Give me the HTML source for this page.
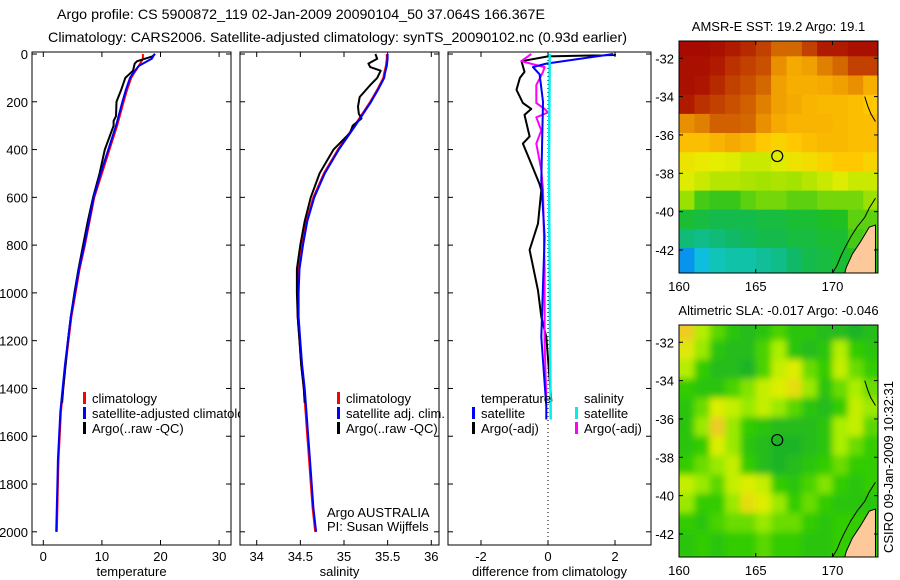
<!DOCTYPE html>
<html><head><meta charset="utf-8"><style>
html,body{margin:0;padding:0;background:#fff}
svg{display:block;font-family:"Liberation Sans",sans-serif}
</style></head><body>
<svg id="chart" width="900" height="580" viewBox="0 0 900 580">
<defs><clipPath id="legclip"><rect x="0" y="0" width="240" height="580"/></clipPath></defs>
<text x="57" y="19" font-size="14" textLength="488" lengthAdjust="spacingAndGlyphs">Argo profile: CS 5900872_119 02-Jan-2009 20090104_50 37.064S 166.367E</text>
<text x="48" y="42" font-size="14" textLength="579" lengthAdjust="spacingAndGlyphs">Climatology: CARS2006. Satellite-adjusted climatology: synTS_20090102.nc (0.93d earlier)</text>
<g id="panels"></g>
<g id="maps"></g>
<text transform="translate(893,553) rotate(-90)" font-size="13">CSIRO 09-Jan-2009 10:32:31</text>
</svg>
<script>
const tDepth   = [0,20,50,80,100,150,200,300,400,500,600,700,800,900,1000,1100,1200,1300,1400,1500,1600,1700,1800,1900,2000];
const tClim    = [17.0,17.0,16.3,15.5,15.0,14.3,13.7,12.6,11.3,10.0,8.7,7.9,7.1,6.2,5.5,4.8,4.3,3.8,3.4,3.0,2.8,2.6,2.5,2.4,2.3];
const tSat     = [19.0,18.5,16.3,15.3,14.8,14.1,13.5,12.4,11.1,9.8,8.6,7.8,7.0,6.1,5.4,4.7,4.2,3.7,3.3,2.9,2.7,2.5,2.4,2.3,2.2];
const aDepth   = [0,10,30,40,70,100,150,200,260,280,300,400,500,600,700,800,900,1000,1100,1200,1300,1400,1460];
const tArgo    = [19.1,18.6,16.0,15.6,15.3,14.0,13.3,12.5,12.4,12.0,12.0,10.5,9.6,8.5,7.6,6.8,6.0,5.3,4.7,4.2,3.8,3.4,3.2];
const sClim    = [35.49,35.49,35.48,35.46,35.45,35.38,35.30,35.12,34.93,34.77,34.65,34.57,34.52,34.48,34.47,34.47,34.49,34.51,34.54,34.56,34.58,34.60,34.62,34.64,34.67];
const sSat     = [35.50,35.50,35.49,35.47,35.46,35.39,35.31,35.13,34.94,34.78,34.66,34.58,34.53,34.49,34.48,34.48,34.50,34.52,34.55,34.57,34.59,34.61,34.63,34.65,34.68];
const sArgoDepth = [0,20,40,55,70,100,130,180,220,250,270,300,330,400,450,500,600,700,800,900,1000,1100,1200,1300,1400,1460];
const sArgo    = [35.36,35.38,35.28,35.30,35.42,35.38,35.30,35.18,35.16,35.17,35.20,35.10,35.07,34.88,34.80,34.72,34.62,34.55,34.50,34.46,34.46,34.47,34.49,34.51,34.54,34.55];
const dBlackDepth = [0,4,10,30,75,100,150,205,230,255,345,375,460,545,570,710,820,990,1100,1185,1455];
const dArgoT      = [2.0,2.0,0.0,-0.79,-0.7,-0.84,-0.94,-0.75,-0.5,-0.7,-0.55,-0.75,-0.5,-0.25,-0.2,-0.3,-0.55,-0.3,-0.2,-0.05,0.1];
const dSatDepth   = [0,40,55,85,200,530,765,1185,1475,1530];
const dSatT       = [1.95,-0.05,-0.45,-0.25,-0.15,-0.2,-0.1,-0.2,-0.05,-0.05];
const dCyanDepth  = [0,500,1000,1530];
const dSatS       = [0.05,0.03,0.05,0.08];
const dMagDepth   = [0,30,50,55,75,130,205,230,245,265,320,375,485,570,900,1200,1450];
const dArgoS      = [-0.5,-0.8,-0.25,-0.1,-0.15,-0.35,-0.35,-0.1,0.0,-0.35,-0.2,-0.35,-0.2,-0.15,-0.1,-0.1,-0.05];
const depthTicks = [0,200,400,600,800,1000,1200,1400,1600,1800,2000];
const tTicks = [0,10,20,30];
const sTicks = [34,34.5,35,35.5,36];
const sTickLabels = ['34','34.5','35','35.5','36'];
const dTicks = [-2,0,2];

const sstGrid = [
[.98,.98,.97,.95,.93,.9,.85,.85,.9,.95,.95,.97,.97],
[.97,.97,.95,.92,.9,.88,.8,.76,.78,.82,.85,.9,.9],
[.97,.96,.93,.9,.88,.85,.78,.75,.75,.76,.78,.8,.75],
[.95,.92,.9,.88,.86,.82,.78,.76,.74,.73,.73,.72,.7],
[.8,.82,.86,.86,.85,.8,.76,.74,.74,.74,.73,.72,.72],
[.72,.72,.74,.76,.74,.7,.68,.7,.72,.73,.73,.72,.72],
[.65,.64,.63,.62,.6,.6,.62,.65,.66,.68,.7,.7,.68],
[.62,.6,.58,.58,.57,.56,.57,.56,.58,.6,.62,.6,.6],
[.55,.48,.47,.47,.5,.52,.52,.5,.5,.52,.52,.52,.55],
[.42,.4,.38,.38,.38,.4,.4,.42,.42,.44,.45,.5,.5],
[.32,.3,.32,.34,.36,.38,.38,.4,.4,.42,.42,.48,.5],
[.1,.18,.24,.26,.26,.28,.3,.34,.38,.4,.42,.45,.45]];
const slaGrid = [
[.8,.62,.5,.4,.35,.4,.48,.4,.4,.35,.35,.3,.35],
[.72,.58,.4,.35,.35,.48,.6,.4,.35,.4,.62,.45,.4],
[.62,.45,.35,.35,.3,.48,.65,.7,.52,.45,.65,.52,.45],
[.45,.4,.4,.48,.55,.65,.7,.75,.58,.4,.52,.6,.52],
[.4,.52,.7,.65,.58,.65,.58,.5,.4,.35,.45,.65,.58],
[.4,.58,.8,.58,.45,.4,.35,.35,.35,.4,.6,.65,.5],
[.4,.45,.7,.58,.4,.35,.3,.3,.35,.4,.6,.52,.45],
[.45,.52,.58,.65,.45,.35,.3,.35,.4,.45,.52,.45,.45],
[.65,.58,.5,.65,.7,.65,.45,.4,.48,.55,.45,.4,.45],
[.58,.45,.45,.58,.75,.7,.58,.45,.52,.45,.4,.4,.4],
[.45,.4,.48,.52,.52,.58,.52,.52,.45,.4,.45,.45,.45],
[.4,.45,.4,.45,.45,.5,.45,.45,.4,.4,.45,.45,.45]];
const lonTicks = [160,165,170];
const latTicks = [-32,-34,-36,-38,-40,-42];
const argoLon = 166.4, argoLat = -37.1;
const landLon = [172.8,172.4,171.8,171.3,170.9,170.8,172.8];
const landLat = [-40.7,-40.8,-41.6,-42.2,-42.9,-43.2,-43.2];
const coastLon = [172.8,172.4,172.1,171.6,171.2,170.8,170.5,170.3,170.0];
const coastLat = [-39.3,-39.8,-40.3,-40.8,-41.3,-41.9,-42.4,-42.8,-43.2];
const northLon = [172.1,172.3,172.5,172.8];
const northLat = [-34.0,-34.5,-34.9,-35.3];

const NS='http://www.w3.org/2000/svg';
function mk(parent,tag,attrs){const e=document.createElementNS(NS,tag);for(const k in attrs)e.setAttribute(k,attrs[k]);parent.appendChild(e);return e;}
const yD = d => 54 + d*0.2389;
const P = document.getElementById('panels');

function panel(name,left,right,xf,ticks,labels,xlabel,ylabels){
  const g=mk(P,'g',{});
  
  
  const r=mk(g,'rect',{x:left,y:52,width:right-left,height:493,fill:'none',stroke:'#000','stroke-width':1});
  
  
  depthTicks.forEach(d=>{
    mk(g,'line',{x1:left,x2:left+5,y1:yD(d),y2:yD(d),stroke:'#000'});
    mk(g,'line',{x1:right,x2:right-5,y1:yD(d),y2:yD(d),stroke:'#000'});
    if(ylabels){const t=mk(g,'text',{x:left-4,y:yD(d)+5,'font-size':13,'text-anchor':'end'});t.textContent=d;
      
      }
  });
  ticks.forEach((v,i)=>{
    const x=xf(v);
    mk(g,'line',{x1:x,x2:x,y1:52,y2:57,stroke:'#000'});
    mk(g,'line',{x1:x,x2:x,y1:545,y2:540,stroke:'#000'});
    const t=mk(g,'text',{x:x,y:561,'font-size':13,'text-anchor':'middle'});t.textContent=labels[i];
    
    
  });
  const xl=mk(g,'text',{x:(left+right)/2,y:576,'font-size':13,'text-anchor':'middle'});xl.textContent=xlabel;
  
  
  return g;
}
function line(g,name,depths,vals,xf,color,w){
  const pts=depths.map((d,i)=>xf(vals[i]).toFixed(1)+','+yD(d).toFixed(1)).join(' ');
  const p=mk(g,'polyline',{points:pts,fill:'none',stroke:color,'stroke-width':w||2,'stroke-linejoin':'round'});
  
  
}
function legend(g,x,y,items,clip){
  const lg=mk(g,'g',clip?{'clip-path':'url(#legclip)'}:{});
  items.forEach((it,i)=>{
    if(it[1]) mk(lg,'rect',{x:x,y:y+i*15-11,width:3,height:12,fill:it[1]});
    const t=mk(lg,'text',{x:x+(it[1]?9:0),y:y+i*15,'font-size':13});t.textContent=it[0];
    
    
  });
}
const xT=v=>43.3+v*5.86, xS=v=>256.7+(v-34)*87.3, xDf=v=>548+v*33.5;
const g1=panel('temperature-panel',32,231,xT,tTicks,tTicks.map(String),'temperature',true);
line(g1,'temp-climatology-line',tDepth,tClim,xT,'#f00');
line(g1,'temp-argo-line',aDepth,tArgo,xT,'#000');
line(g1,'temp-satellite-line',tDepth,tSat,xT,'#00f');
legend(g1,83,403,[['climatology','#f00'],['satellite-adjusted climatology','#00f'],['Argo(..raw -QC)','#000']],true);
const g2=panel('salinity-panel',240,439,xS,sTicks,sTickLabels,'salinity',false);
line(g2,'sal-climatology-line',tDepth,sClim,xS,'#f00');
line(g2,'sal-argo-line',sArgoDepth,sArgo,xS,'#000');
line(g2,'sal-satellite-line',tDepth,sSat,xS,'#00f');
legend(g2,337,403,[['climatology','#f00'],['satellite adj. clim.','#00f'],['Argo(..raw -QC)','#000']]);
const au=mk(g2,'text',{x:327,y:517,'font-size':13});au.textContent='Argo AUSTRALIA';


const pi=mk(g2,'text',{x:327,y:531,'font-size':13});pi.textContent='PI: Susan Wijffels';


const g3=panel('difference-panel',448,651,xDf,dTicks,dTicks.map(String),'difference from climatology',false);
mk(g3,'line',{x1:xDf(0),x2:xDf(0),y1:52,y2:545,stroke:'#000','stroke-dasharray':'1,3'});
line(g3,'diff-argo-temp-line',dBlackDepth,dArgoT,xDf,'#000');
line(g3,'diff-argo-sal-line',dMagDepth,dArgoS,xDf,'#f0f');
line(g3,'diff-sat-temp-line',dSatDepth,dSatT,xDf,'#00f');
line(g3,'diff-sat-sal-line',dCyanDepth,dSatS,xDf,'#0ee',2.5);
legend(g3,481,403,[['temperature',null]]);
legend(g3,472,418,[['satellite','#00f'],['Argo(-adj)','#000']]);
legend(g3,584,403,[['salinity',null]]);
legend(g3,575,418,[['satellite','#0ee'],['Argo(-adj)','#f0f']]);

function lerpStops(stops,v){
  for(let i=1;i<stops.length;i++){ if(v<=stops[i][0]){const a=stops[i-1],b=stops[i],t=Math.max(0,(v-a[0])/(b[0]-a[0]));
    const c=[0,1,2].map(k=>Math.round(a[1][k]+(b[1][k]-a[1][k])*t));return 'rgb('+c.join(',')+')';}}
  const l=stops[stops.length-1][1];return 'rgb('+l.join(',')+')';
}
const sstStops=[[0,[0,96,255]],[.2,[16,200,216]],[.35,[16,184,96]],[.45,[32,192,32]],[.55,[154,224,0]],[.63,[230,238,0]],[.7,[255,200,0]],[.78,[240,160,0]],[.86,[208,96,0]],[.95,[176,26,0]],[1,[160,0,0]]];
const slaStops=[[.3,[30,180,40]],[.45,[50,204,0]],[.6,[170,238,0]],[.7,[221,238,0]],[.8,[238,204,34]]];
const M=document.getElementById('maps');
function map(name,top,bottom,grid,stops,title,blur){
  const left=679,right=878;
  const lx=lon=>left+(lon-160)*15.35;
  const ly=lat=>top+(-31.1-lat)*(bottom-top)/12.1;
  const g=mk(M,'g',{});
  
  
  const cid=name+'-clip';
  const cp=mk(g,'clipPath',{id:cid});mk(cp,'rect',{x:left,y:top,width:right-left,height:bottom-top});
  const cells=mk(g,'g',{'clip-path':'url(#'+cid+')'});
  const inner=mk(cells,'g',blur?{filter:'url(#'+name+'-blur)'}:{});
  if(blur){const f=mk(g,'filter',{id:name+'-blur',x:'-10%',y:'-10%',width:'120%',height:'120%'});mk(f,'feGaussianBlur',{stdDeviation:3.5});}
  grid.forEach((row,r)=>row.forEach((v,c)=>{
    const lat0=-31-r, lon0=160+c;
    const x0=lx(lon0)-(c===0?8:0), y0=ly(lat0+0.1)-(r===0?8:0);
    const cell=mk(inner,'rect',{x:x0.toFixed(1),y:y0.toFixed(1),width:(lx(lon0+1)-x0+(c===12?8:0)+0.5).toFixed(1),height:(ly(lat0-1)-y0+(r===11?8:0)+0.5).toFixed(1),fill:lerpStops(stops,v)});
    
    
  }));
  const land=mk(cells,'polygon',{points:landLon.map((l,i)=>lx(l)+','+ly(landLat[i])).join(' '),fill:'#fdc99a',stroke:'#000','stroke-width':1});
  
  
  mk(cells,'polyline',{points:coastLon.map((l,i)=>lx(l)+','+ly(coastLat[i])).join(' '),fill:'none',stroke:'#000'});
  mk(cells,'polyline',{points:northLon.map((l,i)=>lx(l)+','+ly(northLat[i])).join(' '),fill:'none',stroke:'#000'});
  const c=mk(g,'circle',{cx:lx(argoLon),cy:ly(argoLat),r:5.5,fill:'none',stroke:'#000','stroke-width':1.2});
  
  
  mk(g,'rect',{x:left,y:top,width:right-left,height:bottom-top,fill:'none',stroke:'#000'});
  lonTicks.forEach(l=>{
    mk(g,'line',{x1:lx(l),x2:lx(l),y1:top,y2:top+4,stroke:'#000'});
    mk(g,'line',{x1:lx(l),x2:lx(l),y1:bottom,y2:bottom-4,stroke:'#000'});
    const t=mk(g,'text',{x:lx(l),y:bottom+18,'font-size':13,'text-anchor':'middle'});t.textContent=l;
    
    
  });
  latTicks.forEach(l=>{
    mk(g,'line',{x1:left,x2:left+4,y1:ly(l),y2:ly(l),stroke:'#000'});
    mk(g,'line',{x1:right,x2:right-4,y1:ly(l),y2:ly(l),stroke:'#000'});
    const t=mk(g,'text',{x:left-5,y:ly(l)+5,'font-size':13,'text-anchor':'end'});t.textContent=l;
    
    
  });
  const tt=mk(g,'text',{x:(left+right)/2,y:top-10,'font-size':13,'text-anchor':'middle'});tt.textContent=title;
  
  
}
map('sst-map',41,273,sstGrid,sstStops,'AMSR-E SST: 19.2 Argo: 19.1',false);
map('sla-map',325,557,slaGrid,slaStops,'Altimetric SLA: -0.017 Argo: -0.046',true);
</script>
</body></html>
